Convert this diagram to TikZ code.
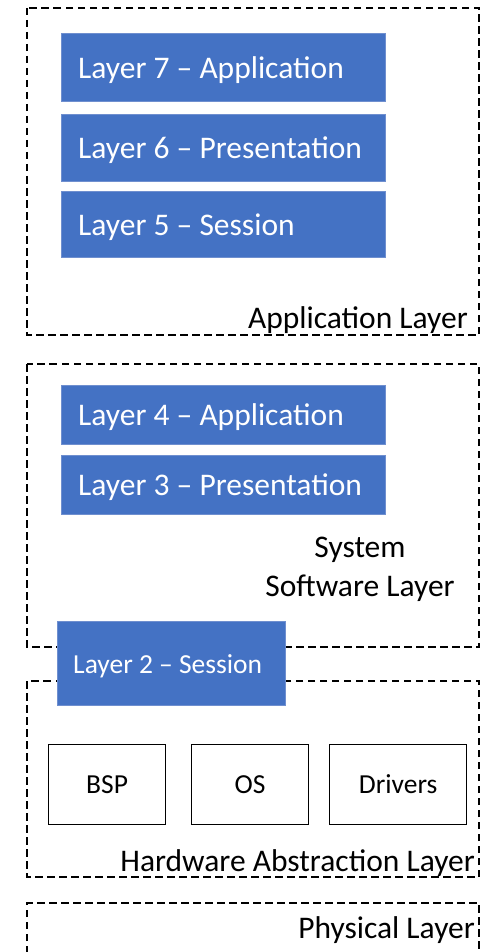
\documentclass[tikz,border=0pt]{standalone}
\usepackage{fontspec}
\setmainfont{Carlito}
\definecolor{officeblue}{HTML}{4472C4}
\definecolor{bluebord}{HTML}{6F8FCF}
\begin{document}
\begin{tikzpicture}[x=1pt,y=-1pt,
  layerbox/.style={draw=black, line width=1.4pt, dash pattern=on 7.5pt off 4.5pt},
  bluebox/.style={fill=officeblue, draw=bluebord, line width=0.6pt, inner sep=0pt},
  bluetext/.style={text=white, font=\fontsize{31.5}{36}\selectfont, anchor=west, inner sep=0pt},
  whitebox/.style={draw=black, line width=1.2pt, fill=white, inner sep=0pt, font=\fontsize{27.5}{32}\selectfont},
  layerlabel/.style={font=\fontsize{31.5}{36}\selectfont, anchor=east, inner sep=0pt}]
\useasboundingbox (0,0) rectangle (481,952);
\fill[white] (0,0) rectangle (481,952);
% dashed layer frames
\draw[layerbox] (27,8) rectangle (479,335);
\draw[layerbox] (27,364) rectangle (479,647);
\draw[layerbox] (27,681) rectangle (479,877);
\draw[layerbox] (27,953) -- (27,903) -- (479,903) -- (479,953);
% application layer
\node[bluebox, minimum width=324pt, minimum height=68pt, anchor=north west] (l7) at (61,33) {};
\node[bluetext] at ([xshift=17pt,yshift=-2.5pt]l7.west) {Layer 7 -- Application};
\node[bluebox, minimum width=324pt, minimum height=67pt, anchor=north west] (l6) at (61,114) {};
\node[bluetext] at ([xshift=17pt,yshift=-2.5pt]l6.west) {Layer 6 -- Presentation};
\node[bluebox, minimum width=324pt, minimum height=66pt, anchor=north west] (l5) at (61,191) {};
\node[bluetext] at ([xshift=17pt,yshift=-2.5pt]l5.west) {Layer 5 -- Session};
\node[layerlabel] (appl) at (468,320) {Application Layer};
% system software layer
\node[bluebox, minimum width=324pt, minimum height=59pt, anchor=north west] (l4) at (61,385) {};
\node[bluetext] at ([xshift=17pt,yshift=-2.5pt]l4.west) {Layer 4 -- Application};
\node[bluebox, minimum width=324pt, minimum height=59pt, anchor=north west] (l3) at (61,455) {};
\node[bluetext] at ([xshift=17pt,yshift=-2.5pt]l3.west) {Layer 3 -- Presentation};
\node[font=\fontsize{31.5}{36}\selectfont, inner sep=0pt] (sys1) at (360,550) {System};
\node[font=\fontsize{31.5}{36}\selectfont, inner sep=0pt] (sys2) at (360,588) {Software Layer};
% layer 2
\node[bluebox, minimum width=228pt, minimum height=84pt, anchor=north west] (l2) at (57,621) {};
\node[bluetext, font=\fontsize{27.5}{32}\selectfont] at (73,666) {Layer 2 -- Session};
% hardware abstraction layer
\node[whitebox, minimum width=117pt, minimum height=80pt, anchor=north west] (bsp) at (48,744) {BSP};
\node[whitebox, minimum width=117pt, minimum height=80pt, anchor=north west] (os) at (191,744) {OS};
\node[whitebox, minimum width=137pt, minimum height=80pt, anchor=north west] (drv) at (329,744) {Drivers};
\node[layerlabel] (hal) at (475,863) {Hardware Abstraction Layer};
\node[layerlabel] (phy) at (475,930) {Physical Layer};
\end{tikzpicture}
\end{document}
